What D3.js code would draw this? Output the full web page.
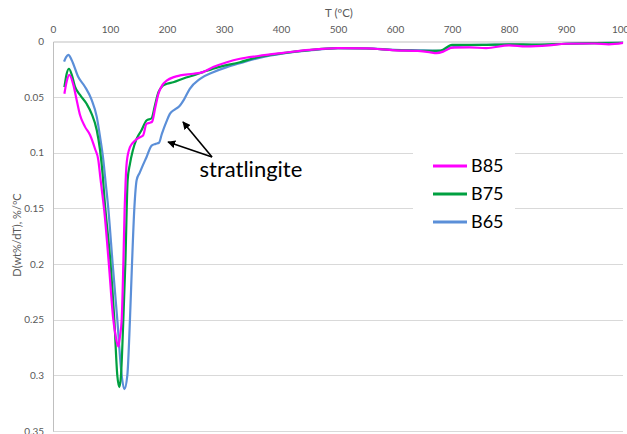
<!DOCTYPE html>
<html>
<head>
<meta charset="utf-8">
<script src="https://cdn.jsdelivr.net/npm/d3@7"></script>
<style>
  html, body { margin: 0; padding: 0; background: #fff; }
  svg { display: block; }
</style>
</head>
<body>
<svg id="chart" width="627" height="434"></svg>
<script>
// DTG curves (derivative of mass loss) for three binder mixes
const seriesNames = ["B85", "B75", "B65"];
const seriesColors = ["#ff00ff", "#00a040", "#5b8fd8"];

const tB85 = [20, 24, 28.6, 35.7, 41.5, 47.4, 56, 65, 73.7, 79.5, 83, 86.5, 89.5, 98, 105.8, 110, 114.6, 117.5, 120.5, 123.4, 125.7, 127.5, 129.5, 135, 144, 152.6, 158, 164, 170, 174, 179, 185, 192, 200, 212, 223, 246, 263, 281, 305, 328, 360, 404, 450, 500, 550, 600, 640, 660, 673, 686, 700, 730, 760, 800, 830, 870, 900, 950, 975, 1000];
const vB85 = [0.047, 0.036, 0.030, 0.039, 0.0525, 0.066, 0.0765, 0.084, 0.0964, 0.1065, 0.122, 0.137, 0.150, 0.200, 0.250, 0.265, 0.2742, 0.265, 0.250, 0.200, 0.150, 0.1244, 0.108, 0.095, 0.089, 0.086, 0.0845, 0.074, 0.073, 0.072, 0.0605, 0.047, 0.039, 0.035, 0.032, 0.0305, 0.029, 0.0275, 0.023, 0.0186, 0.0155, 0.013, 0.0102, 0.0075, 0.006, 0.0062, 0.008, 0.0085, 0.0095, 0.0105, 0.0088, 0.0055, 0.0052, 0.006, 0.0035, 0.0045, 0.0035, 0.002, 0.0018, 0.0025, 0.0012];

const tB75 = [20, 24, 28, 33, 38.6, 47.4, 59, 67.8, 76.7, 82.5, 87, 90.5, 101, 107.6, 112.8, 116.4, 119.3, 123.4, 126.9, 131, 135, 140, 147, 155, 164, 173, 179, 185, 192, 200, 211, 230, 246, 263, 290, 328, 360, 404, 450, 500, 550, 600, 650, 680, 700, 750, 800, 850, 900, 950, 1000];
const vB75 = [0.041, 0.029, 0.0245, 0.030, 0.0406, 0.048, 0.056, 0.065, 0.0795, 0.0975, 0.119, 0.1424, 0.200, 0.250, 0.300, 0.3105, 0.300, 0.250, 0.200, 0.1244, 0.110, 0.098, 0.087, 0.080, 0.071, 0.069, 0.057, 0.0455, 0.040, 0.038, 0.0366, 0.033, 0.0305, 0.0275, 0.023, 0.0186, 0.014, 0.0105, 0.0078, 0.006, 0.0063, 0.0078, 0.0085, 0.0082, 0.003, 0.003, 0.0025, 0.0028, 0.002, 0.0015, 0.0012];

const tB65 = [19.5, 23, 27, 32.7, 44.4, 56, 67.8, 76.7, 82.5, 88.3, 92, 97, 104.7, 112.8, 120.5, 125.1, 130.4, 135, 138.6, 142.7, 146.8, 152, 157, 164, 173, 180, 186, 191, 199, 205, 214, 222, 230, 240, 258, 281, 305, 328, 360, 404, 450, 500, 550, 600, 650, 680, 695, 720, 760, 800, 850, 900, 950, 1000];
const vB65 = [0.018, 0.014, 0.012, 0.0166, 0.032, 0.0406, 0.0525, 0.0675, 0.0855, 0.1065, 0.125, 0.150, 0.200, 0.250, 0.300, 0.3125, 0.300, 0.250, 0.200, 0.150, 0.1244, 0.118, 0.112, 0.104, 0.0935, 0.092, 0.091, 0.083, 0.072, 0.065, 0.061, 0.058, 0.052, 0.0425, 0.0335, 0.0276, 0.023, 0.0195, 0.015, 0.0108, 0.008, 0.006, 0.0062, 0.0075, 0.008, 0.0085, 0.006, 0.0035, 0.003, 0.0028, 0.003, 0.002, 0.0015, 0.0012];

const xTicks = [0, 100, 200, 300, 400, 500, 600, 700, 800, 900, 1000];
const yTicks = [0, 0.05, 0.1, 0.15, 0.2, 0.25, 0.3, 0.35];

const xTitle = "T (ºC)";
const yTitle = "D(wt%/dT), %/ºC";
const noteText = "stratlingite";
// annotation arrows (T, value): a shared tail and two heads
const arrowTail = [279, 0.1038];
const arrowHeads = [[201.8, 0.0903], [228, 0.0723]];
const notePos = [257, 0.1217];

const seriesData = [
  tB85.map((t, i) => ({ t, v: vB85[i] })),
  tB75.map((t, i) => ({ t, v: vB75[i] })),
  tB65.map((t, i) => ({ t, v: vB65[i] }))
];

const svg = d3.select("#chart");
const font = "Lato, 'Liberation Sans', sans-serif";

const x = d3.scaleLinear().domain([0, 1000]).range([53, 623]);
const y = d3.scaleLinear().domain([0, 0.35]).range([41.5, 431]);

// horizontal gridlines
svg.append("g")
  .selectAll("line")
  .data(yTicks.filter(d => d > 0))
  .join("line")
  .attr("x1", x(0)).attr("x2", x(1000))
  .attr("y1", d => Math.round(y(d)) + 0.5).attr("y2", d => Math.round(y(d)) + 0.5)
  .attr("stroke", "#d9d9d9").attr("stroke-width", 1);

// axes
const xAxis = svg.append("g")
  .attr("transform", `translate(0,${y(0)})`)
  .call(d3.axisTop(x).tickValues(xTicks).tickSize(0).tickPadding(9).tickFormat(d3.format("d")));
const yAxis = svg.append("g")
  .attr("transform", `translate(${x(0)},0)`)
  .call(d3.axisLeft(y).tickValues(yTicks).tickSize(0).tickPadding(9).tickFormat(d => String(+d.toFixed(2))));

[xAxis, yAxis].forEach(a => {
  a.select(".domain").attr("stroke", "#bfbfbf").attr("stroke-width", 1);
  a.selectAll("text").attr("fill", "#595959").style("font-family", font).style("font-size", "10px");
});

// axis titles
svg.append("text")
  .attr("x", 339).attr("y", 17)
  .attr("text-anchor", "middle")
  .attr("fill", "#595959")
  .style("font-family", font).style("font-size", "11.5px")
  .text(xTitle);

svg.append("text")
  .attr("transform", "translate(21,235) rotate(-90)")
  .attr("text-anchor", "middle")
  .attr("fill", "#595959")
  .style("font-family", font).style("font-size", "11px")
  .text(yTitle);

// curves
const line = d3.line()
  .x(d => x(d.t))
  .y(d => y(d.v))
  .curve(d3.curveMonotoneX);

const order = [2, 1, 0];
svg.append("g")
  .selectAll("path")
  .data(order)
  .join("path")
  .attr("d", i => line(seriesData[i]))
  .attr("fill", "none")
  .attr("stroke", i => seriesColors[i])
  .attr("stroke-width", 2.2)
  .attr("stroke-linejoin", "round");

// legend
const legend = svg.append("g");
legend.append("rect")
  .attr("x", 413).attr("y", 145).attr("width", 102).attr("height", 95)
  .attr("fill", "#fff");
const legendRows = legend.selectAll("g.row")
  .data(seriesNames)
  .join("g")
  .attr("class", "row")
  .attr("transform", (d, i) => `translate(0,${166 + i * 28})`);
legendRows.append("line")
  .attr("x1", 433).attr("x2", 467)
  .attr("y1", 0).attr("y2", 0)
  .attr("stroke", (d, i) => seriesColors[i])
  .attr("stroke-width", 3);
legendRows.append("text")
  .attr("x", 471).attr("y", 0)
  .attr("dy", "0.35em")
  .attr("fill", "#000")
  .style("font-family", font).style("font-size", "18px")
  .text(d => d);

// annotation
const defs = svg.append("defs");
defs.append("marker")
  .attr("id", "arrowhead")
  .attr("viewBox", "0 0 10 10")
  .attr("refX", 9).attr("refY", 5)
  .attr("markerWidth", 5).attr("markerHeight", 5)
  .attr("orient", "auto")
  .append("path")
  .attr("d", "M0,0 L10,5 L0,10 z")
  .attr("fill", "#000");

svg.append("g")
  .selectAll("line")
  .data(arrowHeads)
  .join("line")
  .attr("x1", x(arrowTail[0])).attr("y1", y(arrowTail[1]))
  .attr("x2", d => x(d[0])).attr("y2", d => y(d[1]))
  .attr("stroke", "#000").attr("stroke-width", 1.6)
  .attr("marker-end", "url(#arrowhead)");

svg.append("text")
  .attr("x", x(notePos[0])).attr("y", y(notePos[1]))
  .attr("fill", "#000")
  .style("font-family", font).style("font-size", "22px")
  .text(noteText);
</script>
</body>
</html>
